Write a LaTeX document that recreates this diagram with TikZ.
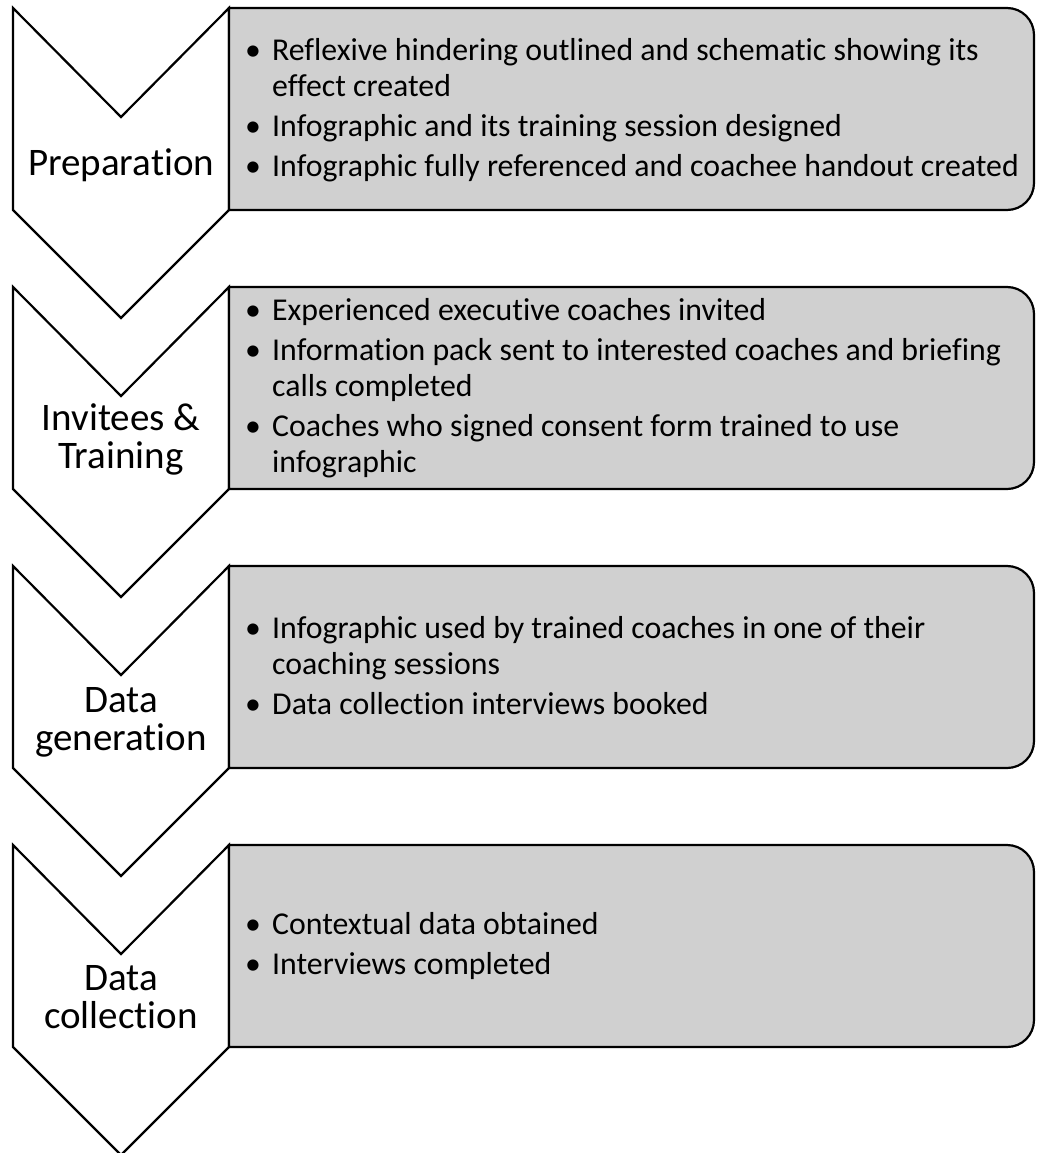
\documentclass[tikz,border=0pt]{standalone}
\usepackage{fontspec}
\setmainfont{Carlito}[Ligatures=NoCommon]
\definecolor{panelgray}{RGB}{208,208,208}
\newcommand\bul{\makebox[27pt][l]{\textbullet}}
\newcommand\cont{\hspace*{27pt}}
\begin{document}
\begin{tikzpicture}[x=1pt,y=-1pt,
  chevron/.style={draw=black, line width=2.2pt, fill=white, line join=miter},
  panel/.style={draw=black, line width=2.2pt, fill=panelgray},
  stage/.style={font=\fontsize{39}{38}\selectfont, align=center, anchor=base, inner sep=0pt},
  points/.style={font=\fontsize{31.8}{36}\selectfont, align=left, anchor=base west, inner sep=0pt}]

\useasboundingbox (0,0) rectangle (1036,1153);

% chevrons and their rounded text panels, one per stage
\foreach \t in {8,287,566,845} {
  \draw[chevron] (13,\t) -- (121,\t+109) -- (229,\t) -- (229,\t+202)
    -- (121,\t+310) -- (13,\t+202) -- cycle;
  \draw[panel] (229,\t) -- (1007,\t) .. controls (1022,\t) and (1034,\t+12) .. (1034,\t+27)
    -- (1034,\t+175) .. controls (1034,\t+190) and (1022,\t+202) .. (1007,\t+202)
    -- (229,\t+202) -- cycle;
}

% stage labels (anchored at the baseline of their last line)
\node[stage] (stage1) at (121,175) {Preparation};
\node[stage] (stage2) at (121,468) {Invitees \&\\Training};
\node[stage] (stage3) at (121,750) {Data\\generation};
\node[stage] (stage4) at (121,1028) {Data\\collection};

% bullet points (anchored at the baseline of their last line)
\node[points] (points1) at (245,176) {%
  \bul Reflexive hindering outlined and schematic showing its\\
  \cont effect created\\[4pt]
  \bul Infographic and its training session designed\\[4pt]
  \bul Infographic fully referenced and coachee handout created};

\node[points] (points2) at (245,472) {%
  \bul Experienced executive coaches invited\\[4pt]
  \bul Information pack sent to interested coaches and briefing\\
  \cont calls completed\\[4pt]
  \bul Coaches who signed consent form trained to use\\
  \cont infographic};

\node[points] (points3) at (245,714) {%
  \bul Infographic used by trained coaches in one of their\\
  \cont coaching sessions\\[4pt]
  \bul Data collection interviews booked};

\node[points] (points4) at (245,974) {%
  \bul Contextual data obtained\\[4pt]
  \bul Interviews completed};
\end{tikzpicture}
\end{document}
